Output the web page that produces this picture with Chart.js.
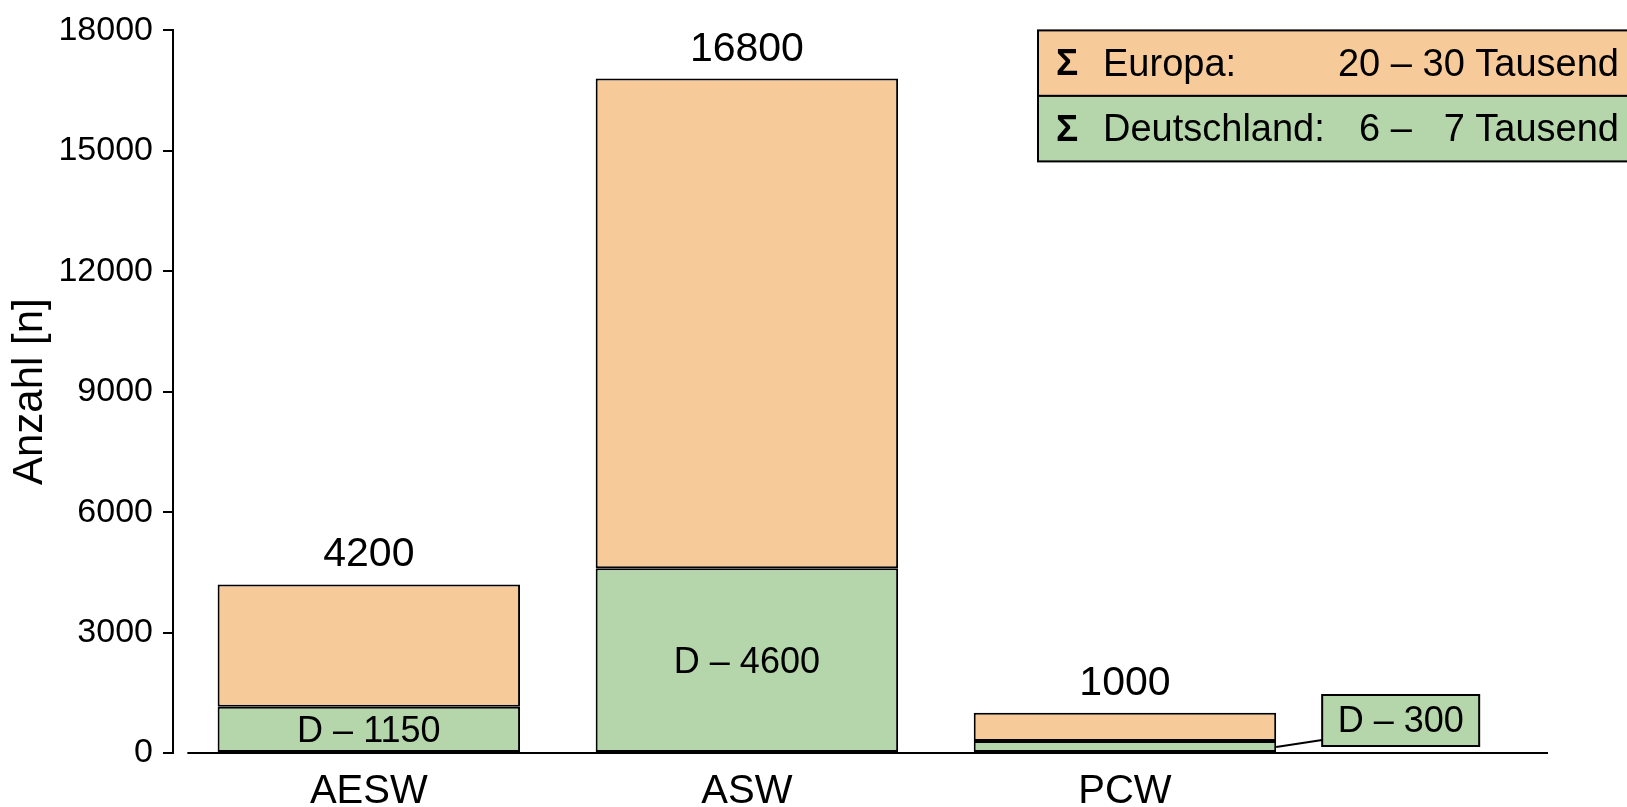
<!DOCTYPE html>
<html>
<head>
<meta charset="utf-8">
<script src="https://cdn.jsdelivr.net/npm/chart.js@4.4.1/dist/chart.umd.min.js"></script>
<style>
  html, body { margin: 0; padding: 0; background: #fff; overflow: hidden; }
</style>
</head>
<body>
<canvas id="myChart" width="1627" height="807"></canvas>
<script>
// ── Data ──────────────────────────────────────────────────────────────────────
var categories   = ['AESW', 'ASW', 'PCW'];
var europeTotals = [4200, 16800, 1000];
var germanyVals  = [1150, 4600, 300];
var yTicks       = [0, 3000, 6000, 9000, 12000, 15000, 18000];
var legendLabels = ['Europa:', 'Deutschland:'];
var legendFrom   = ['20', '6'];
var legendTo     = ['30 Tausend', '7 Tausend'];

var ORANGE = '#F7CA99';
var GREEN  = '#B5D5AA';
var FONT   = "'Liberation Sans', Arial, Helvetica, sans-serif";
var X_MIN = -0.518, X_MAX = 3.119, X_AXIS_START = -0.48;

// ── Build datasets from the arrays ────────────────────────────────────────────
var greenData = [], orangeData = [];
for (var i = 0; i < categories.length; i++) {
  greenData.push({ x: i, y: germanyVals[i] });
  orangeData.push({ x: i, y: [germanyVals[i], europeTotals[i]] });
}

// ── Labels, callout, x axis line and legend box ───────────────────────────────
var annotatePlugin = {
  id: 'annotate',
  afterDatasetsDraw: function (chart) {
    var ctx  = chart.ctx;
    var xs   = chart.scales.x, ys = chart.scales.y;
    var gMeta = chart.getDatasetMeta(0), oMeta = chart.getDatasetMeta(1);
    var base = ys.getPixelForValue(0);
    ctx.save();
    ctx.strokeStyle = '#000';
    ctx.lineWidth = 2;
    ctx.beginPath();
    ctx.moveTo(xs.getPixelForValue(X_AXIS_START), base);
    ctx.lineTo(chart.chartArea.right, base);
    ctx.stroke();

    ctx.textAlign = 'center';
    for (var i = 0; i < categories.length; i++) {
      var ob = oMeta.data[i], gb = gMeta.data[i];
      var top = Math.min(ob.y, ob.base);
      ctx.fillStyle = '#000';
      ctx.font = '41px ' + FONT;
      ctx.textBaseline = 'alphabetic';
      ctx.fillText(String(europeTotals[i]), ob.x, top - 18);

      var gTop = Math.min(gb.y, gb.base);
      var txt  = 'D \u2013 ' + germanyVals[i];
      ctx.font = '36px ' + FONT;
      ctx.textBaseline = 'middle';
      if (base - gTop > 40) {
        ctx.fillText(txt, gb.x, (gTop + base) / 2 + 2);
      } else {
        var right = gb.x + gb.width / 2;
        var bw = 157, bh = 51;
        var bx = right + 46, by = base - 7 - bh;
        ctx.beginPath();
        ctx.moveTo(right, (gTop + base) / 2);
        ctx.lineTo(bx, by + bh - 6);
        ctx.stroke();
        ctx.fillStyle = GREEN;
        ctx.fillRect(bx, by, bw, bh);
        ctx.strokeRect(bx, by, bw, bh);
        ctx.fillStyle = '#000';
        ctx.fillText(txt, bx + bw / 2, by + bh / 2 + 2);
      }
    }

    // legend box
    var lx = chart.chartArea.right - 510, ly = chart.chartArea.top, rowH = 65.5;
    var rightX = lx + 581;
    var colors = [ORANGE, GREEN];
    ctx.font = '38px ' + FONT;
    var dashEnd = rightX - ctx.measureText(' ' + legendTo[0]).width;
    for (var r = 0; r < legendLabels.length; r++) {
      var ry = ly + r * rowH;
      ctx.fillStyle = colors[r];
      ctx.fillRect(lx, ry, 700, rowH);
      ctx.strokeRect(lx, ry, 700, rowH);
      var cy = ry + rowH / 2 + 2;
      ctx.fillStyle = '#000';
      ctx.textBaseline = 'middle';
      ctx.textAlign = 'left';
      ctx.font = 'bold 37px ' + FONT;
      ctx.fillText('\u03A3', lx + 18, cy);
      ctx.font = '38px ' + FONT;
      ctx.fillText(legendLabels[r], lx + 65, cy);
      ctx.textAlign = 'right';
      ctx.fillText(legendFrom[r] + ' \u2013', dashEnd, cy);
      ctx.fillText(legendTo[r], rightX, cy);
    }
    ctx.restore();
  }
};

// ── Chart ─────────────────────────────────────────────────────────────────────
var ctx = document.getElementById('myChart').getContext('2d');
var myChart = new Chart(ctx, {
  type: 'bar',
  data: {
    datasets: [
      { label: 'Deutschland', data: greenData, backgroundColor: GREEN, borderColor: '#000',
        borderWidth: 2, borderSkipped: false, grouped: false, barPercentage: 0.8, categoryPercentage: 1 },
      { label: 'Europa', data: orangeData, backgroundColor: ORANGE, borderColor: '#000',
        borderWidth: 2, borderSkipped: false, grouped: false, barPercentage: 0.8, categoryPercentage: 1 }
    ]
  },
  options: {
    responsive: false,
    devicePixelRatio: 1,
    animation: false,
    layout: { padding: { top: 29, right: 79, bottom: 0, left: 0 } },
    plugins: { legend: { display: false }, tooltip: { enabled: false } },
    scales: {
      x: {
        type: 'linear', min: X_MIN, max: X_MAX, offset: false,
        grid: { display: false }, border: { display: false },
        afterBuildTicks: function (scale) {
          scale.ticks = categories.map(function (c, i) { return { value: i }; });
        },
        afterFit: function (scale) { scale.height = 54; },
        ticks: {
          color: '#000', padding: 7, maxRotation: 0, autoSkip: false,
          font: { family: FONT, size: 40 },
          callback: function (v) { return categories[v]; }
        }
      },
      y: {
        min: 0, max: 18000,
        afterBuildTicks: function (scale) {
          scale.ticks = yTicks.map(function (v) { return { value: v }; });
        },
        afterFit: function (scale) { scale.width = 173; },
        grid: { drawOnChartArea: false, drawTicks: true, tickLength: 10, color: '#000', lineWidth: 2 },
        border: { display: true, color: '#000', width: 2 },
        ticks: {
          color: '#000', padding: 10,
          font: { family: FONT, size: 34 },
          callback: function (v) { return String(v); }
        },
        title: {
          display: true, text: 'Anzahl [n]', color: '#000',
          font: { family: FONT, size: 42 }, padding: { top: 5, bottom: 0 }
        }
      }
    }
  },
  plugins: [annotatePlugin]
});
</script>
</body>
</html>
